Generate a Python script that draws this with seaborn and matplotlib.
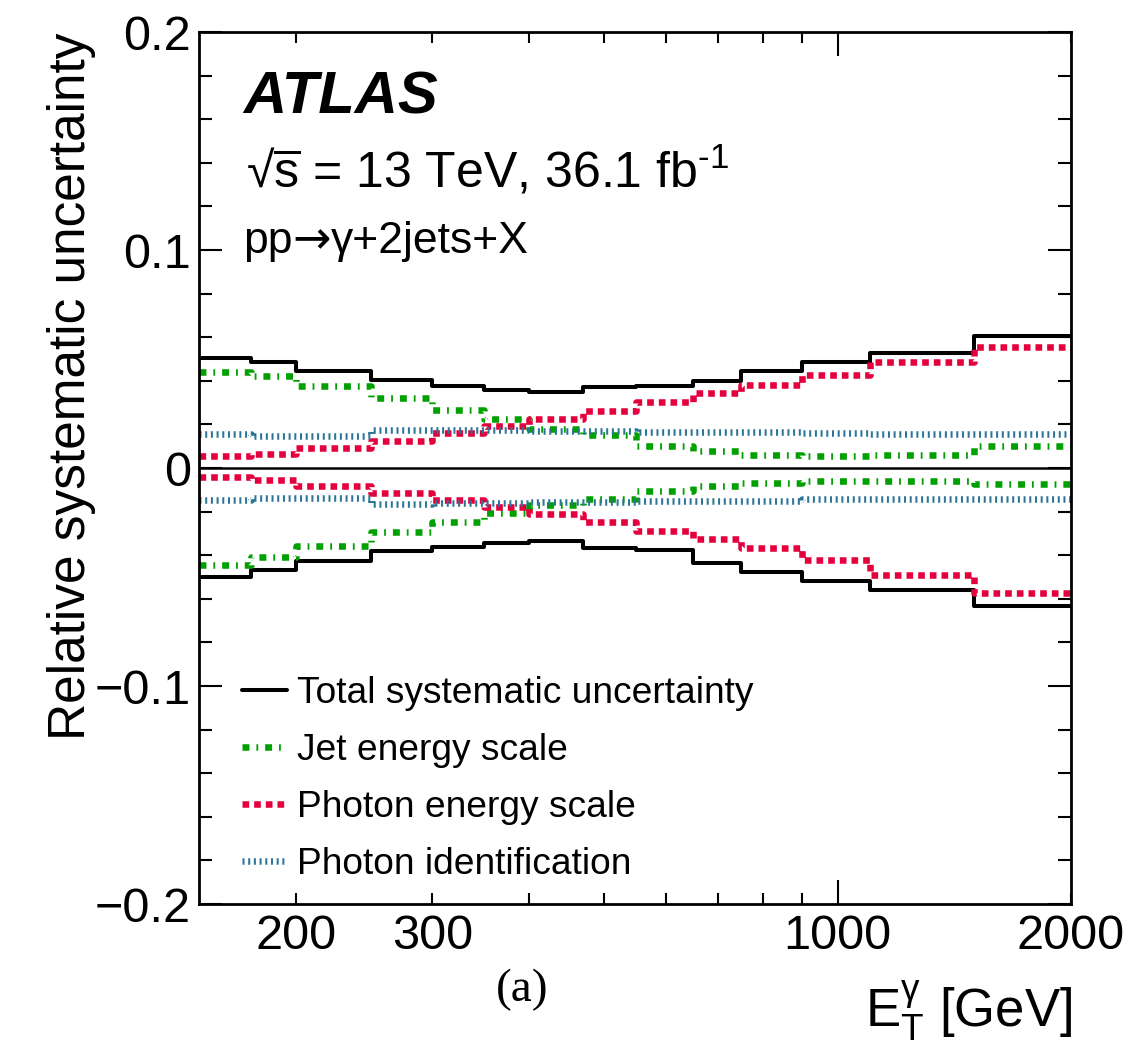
import matplotlib
matplotlib.use("Agg")
import matplotlib.pyplot as plt
from matplotlib.lines import Line2D
from matplotlib.ticker import FixedLocator, MultipleLocator, FuncFormatter
import pandas as pd
import seaborn as sns

# Photon transverse energy bin edges [GeV]
et_edges = [150, 175, 200, 250, 300, 350, 400, 470, 550, 650, 750, 900, 1100, 1500, 2000]

# Relative systematic uncertainties per bin (upward / downward variations)
total_up = [0.0505, 0.0488, 0.0446, 0.0404, 0.0378, 0.0358, 0.0350, 0.0370,
            0.0378, 0.0401, 0.0443, 0.0488, 0.0526, 0.0607]
total_down = [-0.0502, -0.0466, -0.0425, -0.0382, -0.0361, -0.0344, -0.0333, -0.0368,
              -0.0375, -0.0437, -0.0479, -0.0517, -0.0558, -0.0635]
jes_up = [0.0439, 0.0421, 0.0378, 0.0320, 0.0268, 0.0225, 0.0179, 0.0151,
          0.0102, 0.0079, 0.0061, 0.0054, 0.0061, 0.0100]
jes_down = [-0.0443, -0.0407, -0.0359, -0.0295, -0.0246, -0.0208, -0.0170, -0.0142,
            -0.0107, -0.0084, -0.0069, -0.0058, -0.0058, -0.0073]
pes_up = [0.0054, 0.0064, 0.0090, 0.0124, 0.0159, 0.0191, 0.0225, 0.0263,
          0.0304, 0.0344, 0.0382, 0.0427, 0.0488, 0.0554]
pes_down = [-0.0043, -0.0055, -0.0081, -0.0115, -0.0147, -0.0177, -0.0211, -0.0246,
            -0.0290, -0.0326, -0.0368, -0.0421, -0.0491, -0.0573]
phid_up = [0.0155, 0.0145, 0.0145, 0.0175, 0.0175, 0.0175, 0.0172, 0.0168,
           0.0165, 0.0163, 0.0163, 0.0160, 0.0157, 0.0155]
phid_down = [-0.0147, -0.0139, -0.0139, -0.0163, -0.0162, -0.0160, -0.0158, -0.0155,
             -0.0152, -0.0150, -0.0150, -0.0143, -0.0142, -0.0142]

labels = ["Total systematic uncertainty", "Jet energy scale",
          "Photon energy scale", "Photon identification"]

sns.set_theme(style="ticks")
plt.rcParams["font.family"] = ["Liberation Sans", "DejaVu Sans"]
plt.rcParams["mathtext.fontset"] = "custom"
plt.rcParams["mathtext.rm"] = "Liberation Sans"
plt.rcParams["mathtext.it"] = "Liberation Sans:italic"
plt.rcParams["mathtext.bf"] = "Liberation Sans:bold"
plt.rcParams["lines.scale_dashes"] = False
plt.rcParams["axes.linewidth"] = 2.0
for key in ("text.color", "axes.labelcolor", "xtick.color", "ytick.color",
            "axes.edgecolor"):
    plt.rcParams[key] = "black"

W, H = 1139, 1043


def fx(px):
    return px / W


def fy(py):
    return 1 - py / H


fig = plt.figure(figsize=(W / 100, H / 100), dpi=100)
fig.patch.set_facecolor("white")
ax = fig.add_axes([fx(199), fy(904), (1071 - 199) / W, (904 - 32) / H])
ax.set_facecolor("white")

styles = [
    dict(color="black", linewidth=2.9, linestyle="-"),
    dict(color="#00a000", linewidth=4.7, linestyle=(0, (5.0, 5.0, 1.3, 5.0))),
    dict(color="#e4003c", linewidth=4.7, linestyle=(0, (4.8, 3.6))),
    dict(color="#2b7597", linewidth=4.7, linestyle=(0, (1.45, 2.65))),
]
series = [(total_up, total_down), (jes_up, jes_down),
          (pes_up, pes_down), (phid_up, phid_down)]

ax.axhline(0, color="black", linewidth=1.8, zorder=1)

for (up, down), st in zip(series, styles):
    for vals in (up, down):
        df = pd.DataFrame({"et": et_edges, "unc": list(vals) + [vals[-1]]})
        sns.lineplot(data=df, x="et", y="unc", ax=ax, drawstyle="steps-post",
                     estimator=None, errorbar=None, sort=False, legend=False,
                     **st)

ax.set_xscale("log")
ax.set_xlim(150, 2000)
ax.set_ylim(-0.2, 0.2)
ax.set_xlabel("")
ax.set_ylabel("")

# x axis: long tick at the decade, short ticks elsewhere
ax.xaxis.set_major_locator(FixedLocator([1000]))
ax.xaxis.set_minor_locator(FixedLocator([200, 300, 400, 500, 600, 700, 800, 900, 2000]))
ax.xaxis.set_major_formatter(FuncFormatter(lambda v, p: f"{v:.0f}"))
ax.xaxis.set_minor_formatter(
    FuncFormatter(lambda v, p: f"{v:.0f}" if round(v) in (200, 300, 2000) else ""))

ax.yaxis.set_major_locator(MultipleLocator(0.1))
ax.yaxis.set_minor_locator(MultipleLocator(0.02))
ax.yaxis.set_major_formatter(
    FuncFormatter(lambda v, p: "0" if abs(v) < 1e-9 else f"{v:.1f}".replace("-", "\u2212")))

ax.tick_params(which="both", direction="in", top=True, right=True,
               width=1.5, color="black", labelsize=35, labelcolor="black")
ax.tick_params(axis="x", which="major", length=17, pad=7)
ax.tick_params(axis="x", which="minor", length=8, pad=7)
ax.tick_params(axis="y", which="major", length=16.5, pad=6)
ax.tick_params(axis="y", which="minor", length=9.4)
for sp in ax.spines.values():
    sp.set_color("black")
    sp.set_linewidth(2.0)

handles = [Line2D([], [], **st) for st in styles]
ax.legend(handles, labels, loc="upper left", bbox_to_anchor=(fx(242), fy(676)),
          bbox_transform=fig.transFigure, frameon=False, fontsize=26.7,
          handlelength=1.22, handletextpad=0.27, labelspacing=0.59,
          borderpad=0, borderaxespad=0)

fig.text(fx(243), fy(113), "ATLAS", fontsize=43, fontweight="bold",
         fontstyle="italic", va="baseline")
fig.text(fx(246), fy(187),
         "\u221a$\\overline{\\mathrm{s}}$ = 13 TeV, 36.1 fb$^{\\text{-1}}$",
         fontsize=36, va="baseline")

# process label: the arrow comes from a font with a long arrow glyph
renderer = fig.canvas.get_renderer()
t_pp = fig.text(fx(243), fy(253), "pp", fontsize=32, va="baseline")
x_end = t_pp.get_window_extent(renderer=renderer).x1
t_arrow = fig.text(x_end / W, fy(253), "\u2192", family="DejaVu Sans",
                   fontsize=33, va="baseline")
x_end = t_arrow.get_window_extent(renderer=renderer).x1
fig.text(x_end / W, fy(253), "\u03b3+2jets+X", fontsize=32, va="baseline")

fig.text(fx(85), fy(33), "Relative systematic uncertainty", fontsize=37,
         rotation=90, rotation_mode="anchor", ha="right", va="baseline")
fig.text(fx(1072), fy(1027), r"$\mathrm{E}_{\mathrm{T}}^{\mathrm{\gamma}}$ [GeV]",
         fontsize=38, ha="right", va="baseline")
fig.text(fx(522), fy(990), "(a)", family="Liberation Serif", fontsize=34,
         ha="center", va="center")

fig.savefig("out.png", dpi=100, facecolor="white")
